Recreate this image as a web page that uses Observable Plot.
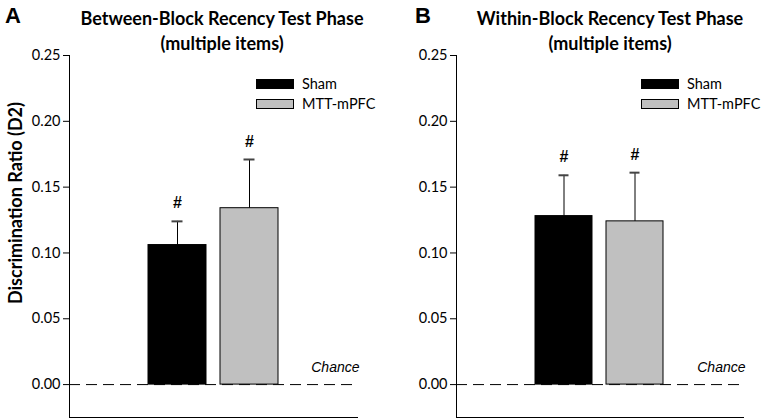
<!DOCTYPE html>
<html>
<head>
<meta charset="utf-8">
<script src="https://cdn.jsdelivr.net/npm/d3@7"></script>
<script src="https://cdn.jsdelivr.net/npm/@observablehq/plot@0.6"></script>
<style>
  html, body { margin: 0; padding: 0; background: #fff; }
  #wrap { position: relative; width: 765px; height: 419px; overflow: hidden; font-family: Lato, "Open Sans", sans-serif; color: #000; }
  .panel { position: absolute; top: 0; }
  .letter { position: absolute; font-family: "Liberation Sans", Arial, sans-serif; font-weight: bold; font-size: 22px; line-height: 1; }
  .title { position: absolute; width: 340px; text-align: center; font-weight: bold; font-size: 18px; line-height: 25px; }
  .ylab { position: absolute; font-weight: bold; font-size: 18px; white-space: nowrap; transform: translate(-50%, -50%) rotate(-90deg); }
  .legend { position: absolute; font-size: 14.5px; line-height: 20px; white-space: nowrap; width: 124px; }
  .legend .row { display: flex; align-items: center; height: 20px; }
  .legend .sw { flex: 0 0 38px; width: 38px; height: 10px; border: 1px solid #000; box-sizing: border-box; margin-right: 8px; }
</style>
</head>
<body>
<div id="wrap"></div>
<script>
// ---- data ----
const groups = ["Sham", "MTT-mPFC"];
const groupColors = ["#000000", "#c0c0c0"];
const panelLetters = ["A", "B"];
const panelTitles = ["Between-Block Recency Test Phase", "Within-Block Recency Test Phase"];
const subtitle = "(multiple items)";
const betweenMeans = [0.106, 0.134];
const betweenSEM = [0.018, 0.037];
const withinMeans = [0.128, 0.124];
const withinSEM = [0.031, 0.037];
const sigMarks = ["#", "#"];
const yTicks = [0, 0.05, 0.10, 0.15, 0.20, 0.25];
const yLabel = "Discrimination Ratio (D2)";
const chanceValue = 0;
const chanceLabel = "Chance";

const wrap = document.getElementById("wrap");

function makePanel(means, sems, opts) {
  const data = groups.map((g, i) => ({group: g, mean: means[i], sem: sems[i], top: means[i] + sems[i], sig: sigMarks[i], color: groupColors[i]}));
  const chart = Plot.plot({
    width: 382,
    height: 419,
    marginLeft: opts.marginLeft,
    marginRight: opts.marginRight,
    marginTop: 55,
    marginBottom: 2,
    style: {fontFamily: "Lato, 'Open Sans', sans-serif", fontSize: "14px", background: "transparent", color: "#000"},
    x: {domain: groups, paddingInner: 0.194, paddingOuter: 1.097, axis: null},
    y: {domain: [-0.025, 0.25], axis: null},
    marks: [
      Plot.ruleY([chanceValue], {stroke: "#000", strokeWidth: 1, strokeDasharray: "11,6"}),
      Plot.barY(data, {x: "group", y: "mean", fill: "color", stroke: "#000", strokeWidth: 1}),
      Plot.ruleX(data, {x: "group", y1: "mean", y2: "top", stroke: "#000", strokeWidth: 1}),
      Plot.tickY(data, {x: "group", y: "top", stroke: "#444", strokeWidth: 2, insetLeft: 23.5, insetRight: 23.5}),
      Plot.text(data, {x: "group", y: "top", text: "sig", dy: -18, fontFamily: "'Liberation Sans', Arial, sans-serif", fontWeight: "bold", fontSize: 16}),
      Plot.text([chanceLabel], {y: chanceValue, frameAnchor: "right", text: d => d, textAnchor: "end", dy: -17, dx: 2, fontFamily: "'Liberation Sans', Arial, sans-serif", fontStyle: "italic", fontSize: 14}),
      Plot.axisY({ticks: yTicks, tickFormat: d3.format(".2f"), tickSize: 6, tickPadding: 3, fontSize: 14.5, label: null}),
      Plot.frame({anchor: "left", stroke: "#000"}),
      Plot.frame({anchor: "bottom", stroke: "#000"})
    ]
  });
  chart.classList.add("panel");
  chart.style.left = opts.left + "px";
  wrap.appendChild(chart);
}

makePanel(betweenMeans, betweenSEM, {left: 0, marginLeft: 69, marginRight: 25});
makePanel(withinMeans, withinSEM, {left: 383, marginLeft: 73, marginRight: 22});

// panel letters, titles, legends
const letterPos = [[5, 5], [415, 5]];
const titleCenters = [222, 610];
const legendPos = [[256, 74], [641, 74]];
for (let p = 0; p < 2; p++) {
  const L = document.createElement("div");
  L.className = "letter";
  L.textContent = panelLetters[p];
  L.style.left = letterPos[p][0] + "px";
  L.style.top = letterPos[p][1] + "px";
  wrap.appendChild(L);

  const T = document.createElement("div");
  T.className = "title";
  T.innerHTML = panelTitles[p] + "<br>" + subtitle;
  T.style.left = (titleCenters[p] - 170) + "px";
  T.style.top = "6px";
  wrap.appendChild(T);

  const G = document.createElement("div");
  G.className = "legend";
  G.style.left = legendPos[p][0] + "px";
  G.style.top = legendPos[p][1] + "px";
  groups.forEach((g, i) => {
    const row = document.createElement("div");
    row.className = "row";
    const sw = document.createElement("div");
    sw.className = "sw";
    sw.style.background = groupColors[i];
    const tx = document.createElement("span");
    tx.textContent = g;
    row.appendChild(sw);
    row.appendChild(tx);
    G.appendChild(row);
  });
  wrap.appendChild(G);
}

const Y = document.createElement("div");
Y.className = "ylab";
Y.textContent = yLabel;
Y.style.left = "15px";
Y.style.top = "203px";
wrap.appendChild(Y);
</script>
</body>
</html>
